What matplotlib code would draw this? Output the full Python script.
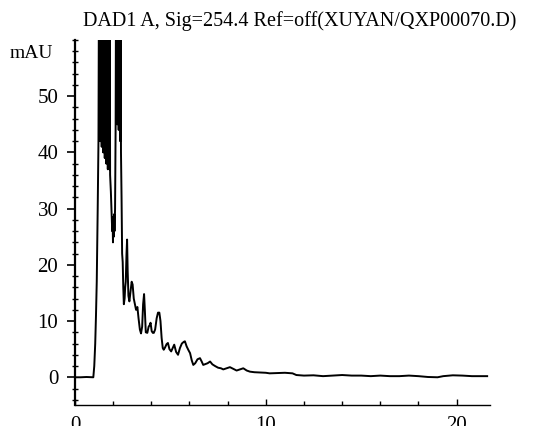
import numpy as np
import matplotlib.pyplot as plt
from matplotlib.ticker import MultipleLocator, FixedLocator

plt.rcParams['font.family'] = ['Liberation Serif', 'DejaVu Serif']

# retention time [min] and absorbance [mAU]
t_start = [0.00, 0.30, 0.60, 0.96, 1.01, 1.06, 1.10, 1.14, 1.19, 1.23]
v_start = [0.0, 0.0, 0.05, 0.0, 2.0, 6.0, 11.0, 17.0, 30.0, 42.0]

# first saturated band (noise, off scale)
t_band1 = [1.26, 1.28, 1.30, 1.32, 1.34, 1.36, 1.38, 1.40, 1.42, 1.44,
           1.46, 1.48, 1.50, 1.52, 1.54, 1.56, 1.58, 1.60, 1.62, 1.64,
           1.66, 1.68, 1.70, 1.72, 1.74, 1.76, 1.78, 1.80, 1.82, 1.84]
v_band1 = [75, 44, 82, 42, 90, 46, 78, 41, 95, 48,
           85, 40, 88, 45, 92, 39, 80, 43, 86, 38,
           90, 44, 76, 37, 82, 40, 70, 37, 66, 36]

t_gap = [1.88, 1.92, 1.95, 1.97, 1.99, 2.01, 2.03, 2.05, 2.07, 2.10, 2.13]
v_gap = [33, 29, 26, 28.5, 24, 28.5, 25, 29, 26, 30, 45]

# second saturated band
t_band2 = [2.15, 2.17, 2.19, 2.21, 2.23, 2.25, 2.27, 2.29, 2.31, 2.33,
           2.35, 2.37, 2.39, 2.41]
v_band2 = [70, 48, 80, 45, 85, 50, 78, 44, 82, 47, 75, 42, 70, 40]

t_tail = [2.44, 2.47, 2.50, 2.53, 2.56, 2.60, 2.63, 2.66, 2.70, 2.73,
          2.76, 2.80, 2.85, 2.90, 2.97, 3.02, 3.08, 3.14, 3.20, 3.27,
          3.33, 3.40, 3.46, 3.52, 3.57, 3.62, 3.66, 3.71, 3.79, 3.86,
          3.92, 3.96, 4.02, 4.08, 4.13, 4.20, 4.28, 4.35, 4.42, 4.48,
          4.54, 4.60, 4.65, 4.72, 4.80, 4.87, 4.95, 5.04, 5.12, 5.20,
          5.30, 5.40, 5.50, 5.60, 5.70, 5.76, 5.85, 5.95, 6.03, 6.12,
          6.20, 6.30, 6.42, 6.55, 6.64, 6.72, 6.80, 6.95, 7.08, 7.20,
          7.34, 7.50, 7.65, 7.77, 7.95, 8.12, 8.30, 8.47, 8.65, 8.82,
          9.00, 9.17, 9.40, 9.70, 10.0, 10.2, 10.6, 11.0, 11.4, 11.6,
          12.0, 12.5, 13.0, 13.5, 14.0, 14.5, 15.0, 15.5, 16.0, 16.5,
          17.0, 17.5, 18.0, 18.5, 19.0, 19.3, 19.8, 20.3, 20.8, 21.3,
          21.6]
v_tail = [32, 22, 20.5, 16, 13, 14, 16, 17, 22, 24.5,
          19, 14.5, 13.5, 15, 17, 16.5, 14, 13, 12, 12.5,
          10.5, 8.5, 7.8, 9, 13, 14.8, 12, 8, 7.9, 9,
          9.3, 9.7, 8.2, 7.9, 7.9, 8.5, 10.5, 11.5, 11.5, 10,
          7, 5.2, 4.9, 5.3, 5.9, 6.1, 5.0, 4.6, 5.2, 5.8,
          4.5, 4.0, 5.2, 6.0, 6.3, 6.4, 5.5, 4.8, 4.3, 3.0,
          2.2, 2.5, 3.2, 3.4, 2.8, 2.2, 2.3, 2.5, 2.8, 2.3,
          2.0, 1.7, 1.6, 1.4, 1.6, 1.8, 1.5, 1.2, 1.4, 1.6,
          1.2, 1.0, 0.9, 0.85, 0.8, 0.7, 0.75, 0.8, 0.7, 0.4,
          0.3, 0.35, 0.2, 0.3, 0.4, 0.3, 0.3, 0.2, 0.3, 0.2,
          0.2, 0.3, 0.2, 0.05, 0.0, 0.2, 0.35, 0.3, 0.2, 0.2,
          0.2]

time = np.concatenate([t_start, t_band1, t_gap, t_band2, t_tail])
signal = np.concatenate([v_start, v_band1, v_gap, v_band2, v_tail])

fig = plt.figure(figsize=(5.38, 4.26), dpi=100)
ax = fig.add_axes([0.1394, 0.0484, 0.7714, 0.8577])
ax.plot(time, signal, color="black", linewidth=1.4)

ax.set_xlim(0, 21.75)
ax.set_ylim(-5, 60)

ax.spines["top"].set_visible(False)
ax.spines["right"].set_visible(False)
ax.spines["left"].set_linewidth(1.6)
ax.spines["bottom"].set_linewidth(1.0)
ax.spines["bottom"].set_linestyle((0, (2, 1)))

ax.yaxis.set_major_locator(FixedLocator([0, 10, 20, 30, 40, 50]))
ax.yaxis.set_minor_locator(MultipleLocator(2))
ax.xaxis.set_major_locator(FixedLocator([0, 10, 20]))
ax.xaxis.set_minor_locator(MultipleLocator(2))

ax.tick_params(axis="y", which="major", direction="out", length=6, width=1.2,
               pad=6, labelsize=15)
ax.tick_params(axis="y", which="minor", direction="inout", length=5, width=1.0)
ax.tick_params(axis="x", which="major", direction="in", length=4, width=1.0,
               pad=8, labelsize=15)
ax.tick_params(axis="x", which="minor", direction="in", length=3, width=1.0)

fig.text(83 / 538, 1 - 26 / 426, "DAD1 A, Sig=254.4 Ref=off(XUYAN/QXP00070.D)",
         fontsize=14.5, ha="left", va="baseline")
fig.text(10 / 538, 1 - 58 / 426, "mAU", fontsize=14, ha="left", va="baseline")

fig.savefig("out.png", dpi=100)
